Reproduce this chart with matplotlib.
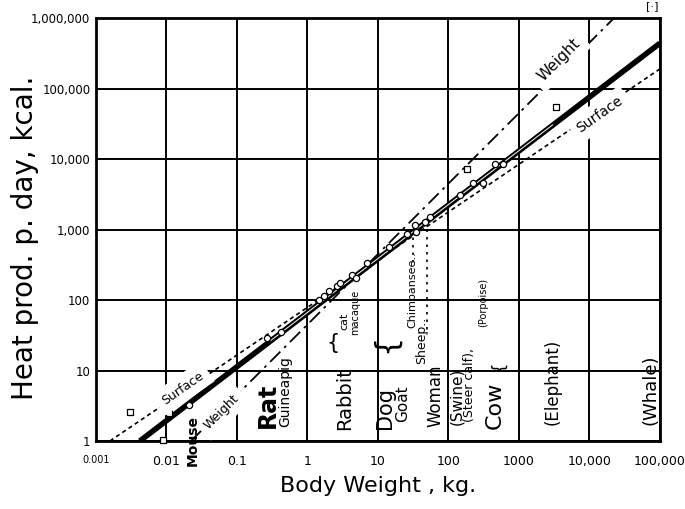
import numpy as np
import matplotlib
matplotlib.use('Agg')
import matplotlib.pyplot as plt

# ---- data (kg, kcal/day) ----
circle_kg = [0.0208, 0.267, 0.421, 1.46, 1.71, 2.02, 2.62, 2.89, 4.28, 4.87, 6.98,
             14.3, 25.8, 33.5, 34.6, 46.4, 54.7, 146, 223, 309, 457, 593]
circle_kcal = [3.24, 28.9, 35.2, 100, 114, 134, 158, 174, 226, 205, 335,
               565, 863, 1158, 922, 1277, 1503, 3085, 4570, 4570, 8490, 8490]

square_kg = [0.00303, 0.0108, 0.0089, 183, 3350]
square_kcal = [2.58, 2.50, 1.03, 7210, 54700]

whale_kg, whale_kcal = 77000, 1.48e6

# fitted lines (end points)
main_kg = [0.0042, 100000]
main_kcal = [1, 440000]
inner_kg = [0.3, 3000]          # white gap inside the double line
inner_kcal = [26.5, 30500]
weight_kg = [0.0223, 22300]
weight_kcal = [1, 1000000]
surface_kg = [0.00158, 100000]
surface_kcal = [1, 190000]

# dotted drop lines (chimpanzee, sheep)
drop_kg = [31.3, 49.5]
drop_top = [1000, 1277]
drop_bottom = [315, 32]

xticks = [0.001, 0.01, 0.1, 1, 10, 100, 1000, 10000, 100000]
xtick_labels = ['0.001', '0.01', '0.1', '1', '10', '100', '1000', '10,000', '100,000']
yticks = [1, 10, 100, 1000, 10000, 100000, 1000000]
ytick_labels = ['1', '10', '100', '1,000', '10,000', '100,000', '1,000,000']

fig = plt.figure(figsize=(6.85, 5.09), dpi=100)
ax = fig.add_axes([0.140, 0.1336, 0.8235, 0.831])
ax.set_xscale('log')
ax.set_yscale('log')
ax.set_xlim(0.001, 100000)
ax.set_ylim(1, 1000000)

ax.grid(True, which='major', color='black', lw=1.4)
ax.minorticks_off()
for s in ax.spines.values():
    s.set_linewidth(2)
ax.tick_params(axis='x', length=0, pad=10)
ax.tick_params(axis='y', length=0, pad=4)
ax.set_xticks(xticks)
ax.set_xticklabels(xtick_labels, fontsize=9)
ax.set_yticks(yticks)
ax.set_yticklabels(ytick_labels, fontsize=8.5)
ax.get_xticklabels()[0].set_fontsize(7)

# lines
ax.plot(main_kg, main_kcal, color='black', lw=4, solid_capstyle='butt', zorder=3)
ax.plot(inner_kg, inner_kcal, color='white', lw=0.7, zorder=4)
ax.plot(weight_kg, weight_kcal, color='black', lw=1.3, ls=(0, (8, 3, 1.5, 3)), zorder=3)
ax.plot(surface_kg, surface_kcal, color='black', lw=1.2, ls=(0, (2.5, 2)), zorder=3)
for k, t, b in zip(drop_kg, drop_top, drop_bottom):
    ax.plot([k, k], [t, b], color='black', lw=1.2, ls=(0, (1.5, 3)), zorder=3)

ax.scatter(circle_kg, circle_kcal, s=20, facecolor='white', edgecolor='black',
           lw=0.9, zorder=5)
ax.scatter(square_kg, square_kcal, s=20, marker='s', facecolor='white',
           edgecolor='black', lw=0.9, zorder=5, clip_on=False)
ax.text(whale_kg, whale_kcal, '[·]', fontsize=8, ha='center', va='center')

# line labels
ax.text(0.0171, 5.65, 'Surface', rotation=35, fontsize=9, ha='center', va='center',
        backgroundcolor='white', zorder=6)
ax.text(0.0612, 2.58, 'Weight', rotation=45, fontsize=9, ha='center', va='center',
        backgroundcolor='white', zorder=6)
ax.text(3690, 253600, 'Weight', rotation=45, fontsize=11, ha='center', va='center',
        backgroundcolor='white', zorder=6)
ax.text(14100, 42100, 'Surface', rotation=35, fontsize=10, ha='center', va='center',
        backgroundcolor='white', zorder=6)

# animal labels (vertical)
animals = [
    ('Mouse', 0.0238, 1.03, 10, 'bold'),
    ('Rat', 0.275, 3.24, 17, 'bold'),
    ('Guineapig', 0.48, 4.95, 10, 'normal'),
    ('Rabbit', 3.4, 3.94, 14, 'normal'),
    ('cat', 3.3, 50, 8, 'normal'),
    ('macaque', 4.72, 67.6, 7, 'normal'),
    ('Dog', 12.6, 2.94, 15, 'normal'),
    ('Goat', 22.6, 3.35, 11, 'normal'),
    ('Sheep..', 42, 27, 9, 'normal'),
    ('Chimpansee..', 30.3, 139, 8, 'normal'),
    ('Woman', 64.4, 4.35, 12, 'normal'),
    ('(Swine)', 132, 4.35, 11, 'normal'),
    ('(Steer calf),', 202, 6.2, 9, 'normal'),
    ('(Porpoise)', 308, 93.7, 7, 'normal'),
    ('Cow', 457, 3.24, 16, 'normal'),
    ('(Elephant)', 3030, 6.87, 12, 'normal'),
    ('(Whale)', 74500, 5.3, 13, 'normal'),
]
for name, x, y, fs, fw in animals:
    ax.text(x, y, name, rotation=90, fontsize=fs, fontweight=fw,
            ha='center', va='center', zorder=6, clip_on=False)

ax.text(2.3, 24.5, '{', fontsize=15, ha='center', va='center')
ax.text(12.6, 24.5, '{', rotation=90, fontsize=22, ha='center', va='center')
ax.text(520, 11.6, '{', rotation=90, fontsize=12, ha='center', va='center')

ax.set_xlabel('Body Weight , kg.', fontsize=16, labelpad=6)
fig.text(0.036, 0.532, 'Heat prod. p. day, kcal.', rotation=90, fontsize=20,
         ha='center', va='center')

fig.savefig('out.png', dpi=100)
